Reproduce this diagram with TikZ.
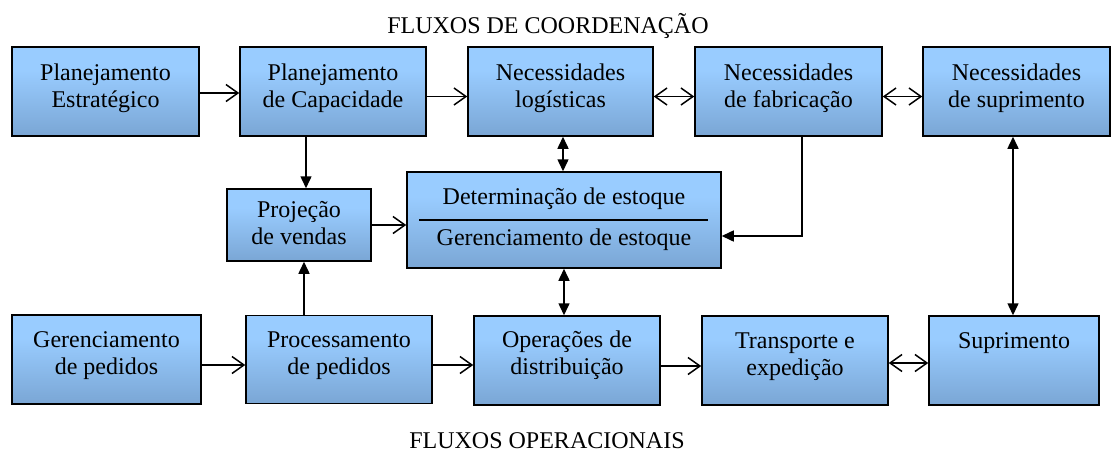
\documentclass[tikz,border=0pt]{standalone}
\usepackage{fontspec}
\setmainfont{Liberation Serif}
\usetikzlibrary{arrows.meta,calc}
\definecolor{bxbot}{HTML}{76A1CF}
\definecolor{bxmid}{HTML}{99CCFF}
\definecolor{bxtop}{HTML}{95C7F8}
\pgfdeclareverticalshading{boxshade}{100bp}{color(0bp)=(bxbot); color(20bp)=(bxbot); color(62bp)=(bxmid); color(75bp)=(bxmid); color(80bp)=(bxtop); color(100bp)=(bxtop)}
\tikzset{
  box/.style={draw=black, line width=1.5pt, shading=boxshade, rectangle, inner sep=0pt},
  txt/.style={align=center, font=\fontsize{24}{27}\selectfont, inner sep=0pt},
  oarr/.style={line width=1.5pt, -{Straight Barb[length=12pt,width=17pt,line width=1.5pt]}},
  oarrb/.style={line width=1.5pt, {Straight Barb[length=12pt,width=17pt,line width=1.5pt]}-{Straight Barb[length=12pt,width=17pt,line width=1.5pt]}},
  farr/.style={line width=1.5pt, -{Triangle[length=12pt,width=11pt]}},
  farrb/.style={line width=1.5pt, {Triangle[length=12pt,width=11pt]}-{Triangle[length=12pt,width=11pt]}},
}
\newcommand\mybox[7]{%
  \node[box, minimum width=#4pt, minimum height=#5pt] (#1) at (#2,#3) {};
  \node[txt] (#1t) at ([yshift=#6pt]#1.center) {#7};
}
\begin{document}
\begin{tikzpicture}[x=1pt,y=-1pt]
\useasboundingbox (0,0) rectangle (1113,453);
% titles
\node[txt, anchor=base] (t1) at (548,33) {FLUXOS DE COORDENAÇÃO};
\node[txt, anchor=base] (t2) at (547,448) {FLUXOS OPERACIONAIS};
% row 1
\mybox{pe}{105.5}{91.5}{187}{89}{3.5}{Planejamento\\Estratégico}
\mybox{pc}{333}{91.5}{186}{89}{3.5}{Planejamento\\de Capacidade}
\mybox{nl}{560.5}{91.5}{185}{89}{3.5}{Necessidades\\logísticas}
\mybox{nf}{788.5}{91.5}{187}{89}{3.5}{Necessidades\\de fabricação}
\mybox{ns}{1016.5}{91.5}{187}{89}{3.5}{Necessidades\\de suprimento}
% row 2
\mybox{pv}{299}{225}{144}{72}{2}{Projeção\\de vendas}
\node[box, minimum width=314pt, minimum height=96pt] (det) at (564,220) {};
\node[txt] (det1) at (564,199) {Determinação de estoque};
\node[txt] (det2) at (564,240) {Gerenciamento de estoque};
\draw[line width=1.2pt] ([xshift=-145pt]det.center) coordinate (dl) -- ([xshift=144pt]det.center) coordinate (dr);
% row 3
\mybox{gp}{106.5}{359.5}{189}{89}{4}{Gerenciamento\\de pedidos}
\mybox{pp}{339}{359.5}{186}{88}{4}{Processamento\\de pedidos}
\mybox{od}{567}{360.5}{186}{89}{5}{Operações de\\distribuição}
\mybox{te}{795}{360.5}{186}{89}{4}{Transporte e\\expedição}
\mybox{su}{1014}{360.5}{170}{89}{17}{Suprimento}
% connectors row 1
\draw[oarr] ([yshift=-1.5pt]pe.east) -- ([yshift=-1.5pt]pc.west);
\draw[oarr] ([yshift=-5pt]pc.east) -- ([yshift=-5pt]nl.west);
\draw[oarrb] ([yshift=-5pt]nl.east) -- ([yshift=-5pt]nf.west);
\draw[oarrb] ([yshift=-5pt]nf.east) -- ([yshift=-5pt]ns.west);
% vertical connectors
\draw[farr] ([xshift=7pt]pv.north |- pc.south) -- ([xshift=7pt]pv.north);
\draw[farr] ([xshift=5pt]pv.south |- pp.north) -- ([xshift=5pt]pv.south);
\draw[oarr] (pv.east) -- (pv.east -| det.west);
\draw[farrb] ([xshift=-1pt]det.north |- nl.south) -- ([xshift=-1pt]det.north);
\draw[farrb] (det.south) -- (det.south |- od.north);
\draw[farr] ([xshift=13.5pt]nf.south) |- ([yshift=-16pt]det.east);
\draw[farrb] ([xshift=-1pt]su.north |- ns.south) -- ([xshift=-1pt]su.north);
% connectors row 3
\draw[oarr] ([yshift=-5.5pt]gp.east) -- ([yshift=-5.5pt]gp.east -| pp.west);
\draw[oarr] ([yshift=-5.5pt]pp.east) -- ([yshift=-5.5pt]pp.east -| od.west);
\draw[oarr] ([yshift=-5.5pt]od.east) -- ([yshift=-5.5pt]te.west);
\draw[oarrb] ([yshift=-2.5pt]te.east) -- ([yshift=-2.5pt]su.west);
\end{tikzpicture}
\end{document}
